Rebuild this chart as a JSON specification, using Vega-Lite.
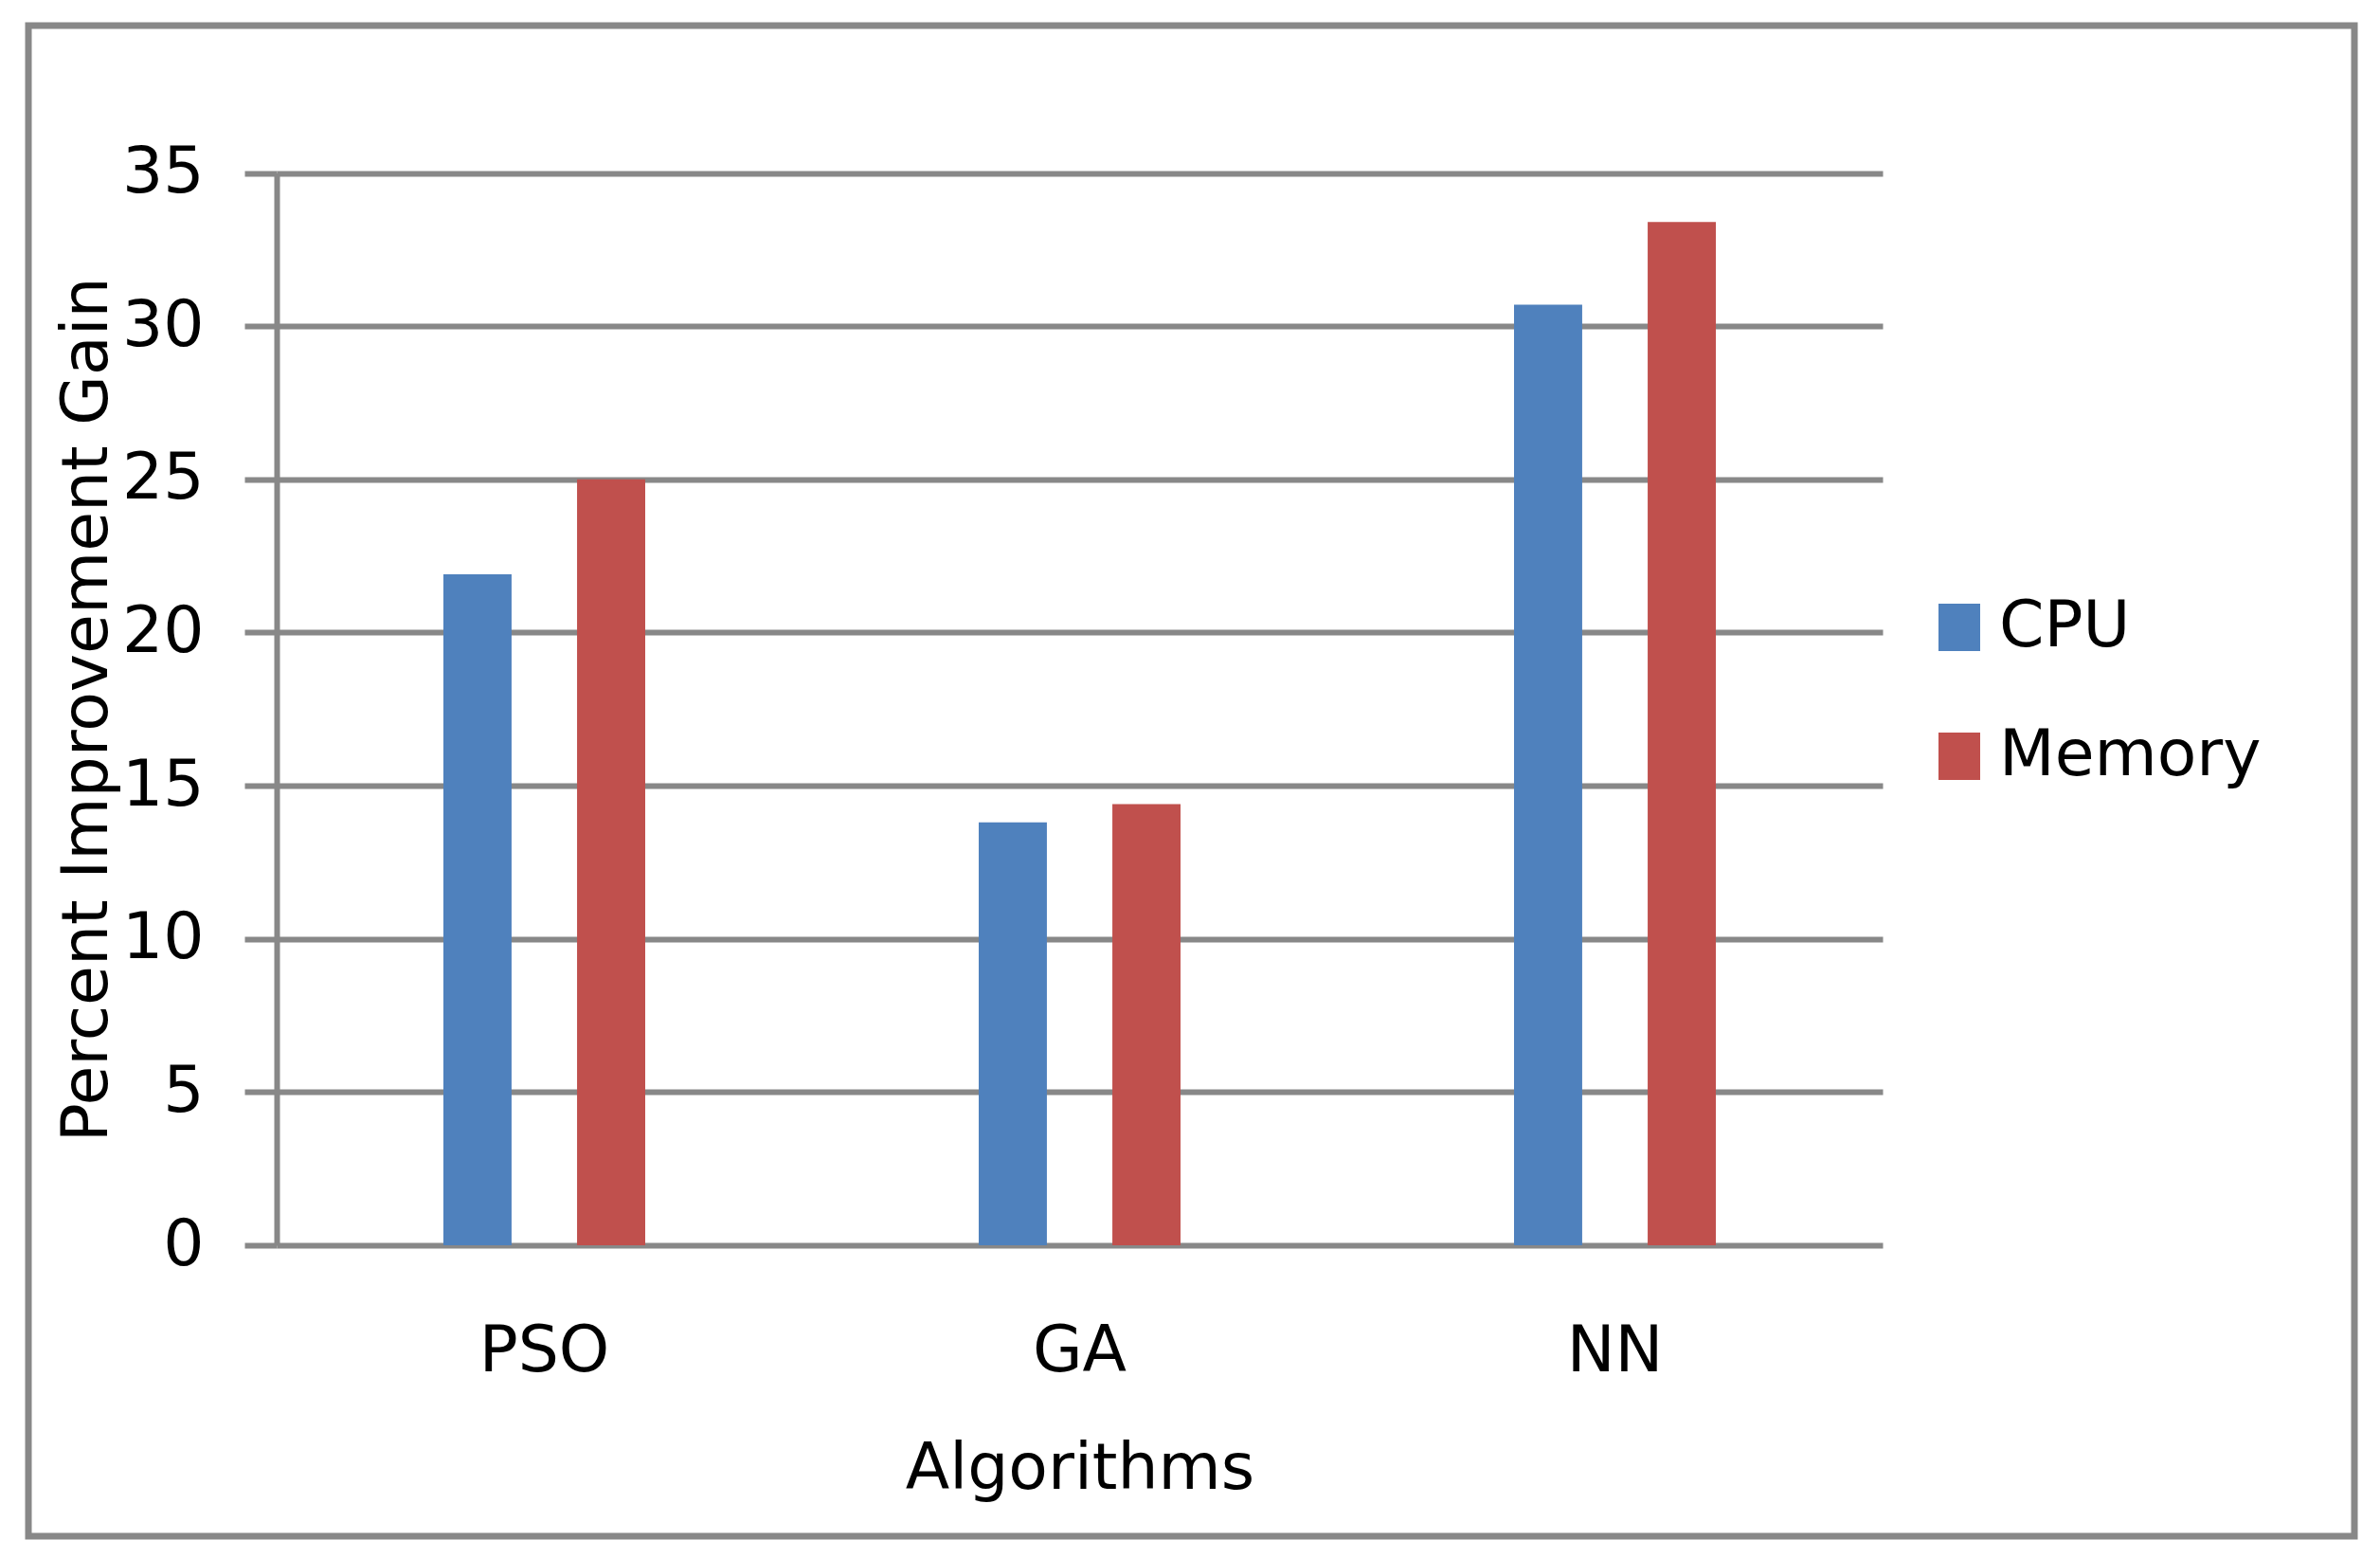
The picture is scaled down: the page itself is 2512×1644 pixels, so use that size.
{
  "$schema": "https://vega.github.io/schema/vega-lite/v6.json",
  "width": 2455,
  "height": 1594,
  "autosize": {"type": "none"},
  "padding": {"left": 30, "top": 27, "right": 27, "bottom": 23},
  "background": "white",
  "config": {
    "view": {"stroke": "#888888", "strokeWidth": 7, "fill": "white"},
    "font": "DejaVu Sans"
  },
  "data": {
    "values": [
      {"algorithm": "PSO", "resource": "CPU", "gain": 21.9},
      {"algorithm": "PSO", "resource": "Memory", "gain": 25.0},
      {"algorithm": "GA", "resource": "CPU", "gain": 13.8},
      {"algorithm": "GA", "resource": "Memory", "gain": 14.4},
      {"algorithm": "NN", "resource": "CPU", "gain": 30.7},
      {"algorithm": "NN", "resource": "Memory", "gain": 33.4}
    ]
  },
  "mark": {"type": "bar"},
  "encoding": {
    "x": {
      "field": "algorithm",
      "type": "nominal",
      "sort": ["PSO", "GA", "NN"],
      "scale": {"range": [262, 1957], "paddingInner": 0.623, "paddingOuter": 0.3115},
      "axis": {
        "title": "Algorithms",
        "offset": -307,
        "domain": false,
        "ticks": false,
        "tickSize": 0,
        "grid": false,
        "labelAngle": 0,
        "labelPadding": 78,
        "labelFontSize": 68,
        "labelColor": "black",
        "titleFontSize": 68,
        "titleFontWeight": "normal",
        "titleColor": "black",
        "titlePadding": 56
      }
    },
    "xOffset": {
      "field": "resource",
      "type": "nominal",
      "sort": ["CPU", "Memory"],
      "scale": {"paddingInner": 0.49, "paddingOuter": 0}
    },
    "y": {
      "field": "gain",
      "type": "quantitative",
      "scale": {"domain": [0, 35], "range": [1287, 155.5], "nice": false},
      "axis": {
        "title": "Percent Improvement Gain",
        "values": [0, 5, 10, 15, 20, 25, 30, 35],
        "offset": -262,
        "domain": true,
        "domainColor": "#888888",
        "domainWidth": 6,
        "ticks": true,
        "tickColor": "#888888",
        "tickWidth": 6,
        "tickSize": 34,
        "grid": true,
        "gridColor": "#888888",
        "gridWidth": 6,
        "gridOpacity": 1,
        "labelFontSize": 68,
        "labelColor": "black",
        "labelPadding": 43,
        "titleFontSize": 68,
        "titleFontWeight": "normal",
        "titleColor": "black",
        "titlePadding": 2
      }
    },
    "color": {
      "field": "resource",
      "type": "nominal",
      "sort": ["CPU", "Memory"],
      "scale": {"range": ["#4F81BD", "#C0504D"]},
      "legend": {
        "title": null,
        "orient": "none",
        "direction": "vertical",
        "legendX": 2004,
        "legendY": 601,
        "padding": 0,
        "symbolType": "M-0.88,-1H0.88V1H-0.88Z",
        "symbolSize": 2500,
        "symbolOpacity": 1,
        "symbolStrokeWidth": 0,
        "labelFontSize": 68,
        "labelColor": "black",
        "labelOffset": 8,
        "labelLimit": 0,
        "rowPadding": 68
      }
    }
  }
}
